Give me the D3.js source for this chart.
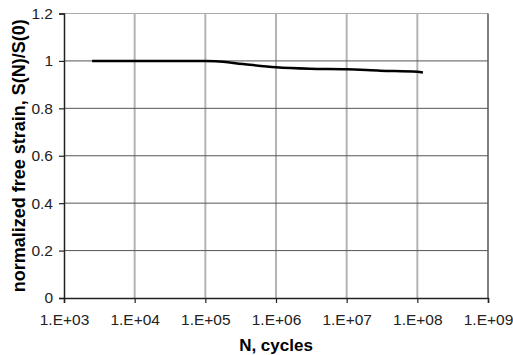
<!DOCTYPE html>
<html>
<head>
<meta charset="utf-8">
<script src="https://cdn.jsdelivr.net/npm/d3@7"></script>
<style>
  body { margin: 0; background: #fff; }
  text { font-family: Arial, "Liberation Sans", sans-serif; }
</style>
</head>
<body>
<div id="chart"></div>
<script>
// cycles and normalized free strain
const cycles = [2500, 1e4, 1e5, 1.4e5, 3.4e5, 1e6, 3e6, 1e7, 3e7, 1e8, 1.2e8];
const strain = [1.0, 1.0, 1.0, 0.999, 0.987, 0.973, 0.967, 0.965, 0.959, 0.954, 0.951];

const xTicks = [1e3, 1e4, 1e5, 1e6, 1e7, 1e8, 1e9];
const yTicks = [0, 0.2, 0.4, 0.6, 0.8, 1, 1.2];

const width = 513;
const height = 355;
const margin = { top: 13.5, right: 25, bottom: 57, left: 64 };
const w = width - margin.left - margin.right;
const h = height - margin.top - margin.bottom;

const svg = d3
  .select('#chart')
  .append('svg')
  .attr('width', width)
  .attr('height', height);

const g = svg.append('g').attr('transform', `translate(${margin.left},${margin.top})`);

const x = d3.scaleLog().domain([1e3, 1e9]).range([0, w]);
const y = d3.scaleLinear().domain([0, 1.2]).range([h, 0]);

// vertical grid (light)
g.selectAll('.vgrid')
  .data(xTicks.slice(1, -1))
  .enter()
  .append('line')
  .attr('x1', (d) => x(d))
  .attr('x2', (d) => x(d))
  .attr('y1', 0)
  .attr('y2', h)
  .attr('stroke', '#b4b4b4')
  .attr('stroke-width', 2);

// horizontal grid (dark)
g.selectAll('.hgrid')
  .data(yTicks.slice(1))
  .enter()
  .append('line')
  .attr('x1', 0)
  .attr('x2', w)
  .attr('y1', (d) => y(d))
  .attr('y2', (d) => y(d))
  .attr('stroke', (d) => (d === 1.2 ? '#aaa' : '#555'))
  .attr('stroke-width', 1);

// right border
g.append('line')
  .attr('x1', w).attr('x2', w)
  .attr('y1', 0).attr('y2', h)
  .attr('stroke', '#555')
  .attr('stroke-width', 1.5);

// axes
const xAxis = g
  .append('g')
  .attr('transform', `translate(0,${h})`)
  .call(d3.axisBottom(x).tickValues(xTicks).tickSize(5).tickPadding(11)
    .tickFormat((d) => '1.E+' + String(Math.round(Math.log10(d))).padStart(2, '0')));

const yAxis = g
  .append('g')
  .call(d3.axisLeft(y).tickValues(yTicks).tickSize(5).tickPadding(6)
    .tickFormat((d) => String(+d.toFixed(1))));

[xAxis, yAxis].forEach((ax) => {
  ax.select('.domain').attr('stroke', '#222').attr('stroke-width', 1.5);
  ax.selectAll('.tick line').attr('stroke', '#222').attr('stroke-width', 1.2);
  ax.selectAll('.tick text')
    .attr('fill', '#222')
    .style('font-size', '15.5px')
    .style('font-family', 'Arial, "Liberation Sans", sans-serif');
});

// curve
const line = d3
  .line()
  .x((d, i) => x(cycles[i]))
  .y((d) => y(d))
  .curve(d3.curveMonotoneX);

g.append('path')
  .datum(strain)
  .attr('d', line)
  .attr('fill', 'none')
  .attr('stroke', '#000')
  .attr('stroke-width', 2.5);

// axis titles
svg.append('text')
  .attr('x', margin.left + w / 2)
  .attr('y', 351)
  .attr('text-anchor', 'middle')
  .style('font-size', '17px')
  .style('font-weight', 'bold')
  .text('N, cycles');

svg.append('text')
  .attr('transform', `translate(25,${margin.top + h / 2}) rotate(-90)`)
  .attr('text-anchor', 'middle')
  .style('font-size', '18px')
  .style('font-weight', 'bold')
  .text('normalized free strain, S(N)/S(0)');
</script>
</body>
</html>
